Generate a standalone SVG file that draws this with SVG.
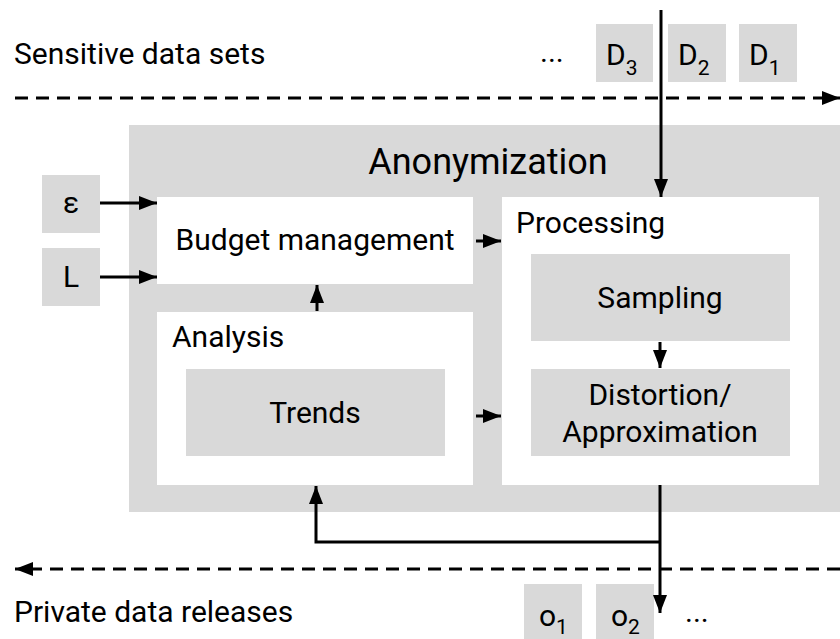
<svg xmlns="http://www.w3.org/2000/svg" width="840" height="639" viewBox="0 0 840 639">
<defs>
<style>
text{font-family:Roboto,"Liberation Sans",sans-serif;fill:#000;font-size:30px}
.g{fill:#d9d9d9}
.w{fill:#fff}
.c{text-anchor:middle}
.big{font-size:36px}
.sub{font-size:21px}
.ln{stroke:#000;stroke-width:3;fill:none}
.dash{stroke:#000;stroke-width:3;fill:none;stroke-dasharray:13 8}
</style>
<marker id="ah" markerUnits="userSpaceOnUse" markerWidth="18" markerHeight="14" refX="18" refY="7" orient="auto">
<path d="M0,0 L18,7 L0,14 Z" fill="#000"/>
</marker>
</defs>
<rect width="840" height="639" fill="#fff"/>
<g id="labels">
<text x="14" y="64">Sensitive data sets</text>
<text x="14" y="622">Private data releases</text>
<text x="540" y="62">...</text>
<text x="685" y="622">...</text>
</g>
<g id="anonymization">
<rect class="g" x="129" y="125" width="711" height="387"/>
<text class="c big" x="488" y="174">Anonymization</text>
</g>
<g id="budget">
<rect class="w" x="157" y="197" width="316" height="87"/>
<text class="c" x="315" y="250">Budget management</text>
</g>
<g id="analysis">
<rect class="w" x="157" y="312" width="316" height="173"/>
<text x="172" y="347">Analysis</text>
</g>
<g id="trends">
<rect class="g" x="186" y="369" width="259" height="87"/>
<text class="c" x="315" y="423">Trends</text>
</g>
<g id="processing">
<rect class="w" x="502" y="197" width="317" height="288"/>
<text x="516" y="233">Processing</text>
</g>
<g id="sampling">
<rect class="g" x="531" y="254" width="259" height="87"/>
<text class="c" x="660" y="308">Sampling</text>
</g>
<g id="distortion">
<rect class="g" x="531" y="369" width="259" height="87"/>
<text class="c" x="660" y="405">Distortion/</text>
<text class="c" x="660" y="442">Approximation</text>
</g>
<g id="eps">
<rect class="g" x="42" y="175" width="58" height="58"/>
<text class="c" x="71" y="213">ε</text>
</g>
<g id="L">
<rect class="g" x="42" y="248" width="58" height="58"/>
<text class="c" x="71" y="287">L</text>
</g>
<g id="D3">
<rect class="g" x="596" y="24" width="57" height="58"/>
<text x="606" y="65">D<tspan class="sub" dy="10">3</tspan></text>
</g>
<g id="D2">
<rect class="g" x="668" y="24" width="58" height="58"/>
<text x="678" y="65">D<tspan class="sub" dy="10">2</tspan></text>
</g>
<g id="D1">
<rect class="g" x="739" y="24" width="58" height="58"/>
<text x="749" y="65">D<tspan class="sub" dy="10">1</tspan></text>
</g>
<g id="o1">
<rect class="g" x="524" y="584" width="58" height="55"/>
<text x="539" y="626">o<tspan class="sub" dy="8">1</tspan></text>
</g>
<g id="o2">
<rect class="g" x="596" y="584" width="58" height="55"/>
<text x="611" y="626">o<tspan class="sub" dy="8">2</tspan></text>
</g>
<g id="connectors">
<line class="dash" x1="15" y1="98" x2="840" y2="98" marker-end="url(#ah)"/>
<line class="dash" x1="840" y1="569" x2="15" y2="569" marker-end="url(#ah)"/>
<line class="ln" x1="661" y1="10" x2="661" y2="197" marker-end="url(#ah)"/>
<line class="ln" x1="100" y1="203" x2="157" y2="203" marker-end="url(#ah)"/>
<line class="ln" x1="100" y1="277" x2="157" y2="277" marker-end="url(#ah)"/>
<line class="ln" x1="476" y1="241" x2="501" y2="241" marker-end="url(#ah)"/>
<line class="ln" x1="476" y1="416" x2="501" y2="416" marker-end="url(#ah)"/>
<line class="ln" x1="317" y1="311" x2="317" y2="285" marker-end="url(#ah)"/>
<line class="ln" x1="660" y1="342" x2="660" y2="368" marker-end="url(#ah)"/>
<line class="ln" x1="660" y1="485" x2="660" y2="613" marker-end="url(#ah)"/>
<polyline class="ln" points="660,542 316,542 316,486" marker-end="url(#ah)"/>
</g>
</svg>
